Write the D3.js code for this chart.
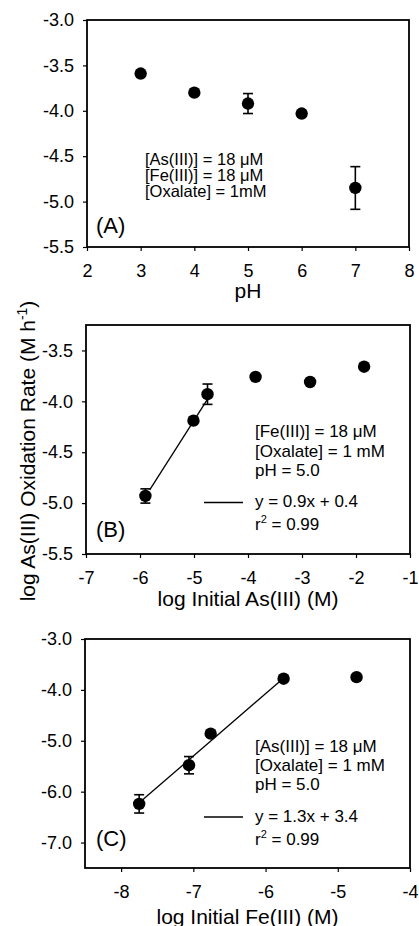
<!DOCTYPE html>
<html>
<head>
<meta charset="utf-8">
<script src="https://cdn.jsdelivr.net/npm/d3@7"></script>
<style>
  body { margin: 0; background: #fff; }
  text { font-family: "Liberation Sans", Arial, sans-serif; fill: #000; }
</style>
</head>
<body>
<div id="chart"></div>
<script>
const width = 419;
const height = 926;

// Panel A: rate vs pH
const phValues = [3, 4, 5, 6, 7];
const rateA = [-3.59, -3.80, -3.92, -4.03, -4.85];
const errA = [0, 0, 0.11, 0, 0.235];

// Panel B: rate vs log initial As(III)
const asInit = [-5.90, -5.01, -4.75, -3.86, -2.85, -1.85];
const rateB = [-4.93, -4.19, -3.93, -3.76, -3.81, -3.66];
const errB = [0.07, 0, 0.1, 0, 0, 0];
const fitB = [[-5.82, -4.87], [-4.74, -3.97]];

// Panel C: rate vs log initial Fe(III)
const feInit = [-7.75, -7.06, -6.76, -5.75, -4.74];
const rateC = [-6.24, -5.48, -4.86, -3.78, -3.75];
const errC = [0.18, 0.17, 0, 0, 0];
const fitC = [[-7.75, -6.22], [-5.76, -3.78]];

// tick values
const ticksAx = [2, 3, 4, 5, 6, 7, 8];
const ticksAy = [-5.5, -5.0, -4.5, -4.0, -3.5, -3.0];
const ticksBx = [-7, -6, -5, -4, -3, -2, -1];
const ticksBy = [-5.5, -5.0, -4.5, -4.0, -3.5];
const ticksCx = [-8, -7, -6, -5, -4];
const ticksCy = [-7.0, -6.0, -5.0, -4.0, -3.0];

const notesA = ["[As(III)] = 18 \u03bcM", "[Fe(III)] = 18 \u03bcM", "[Oxalate] = 1mM"];
const notesB = ["[Fe(III)] = 18 \u03bcM", "[Oxalate] = 1 mM", "pH = 5.0"];
const notesC = ["[As(III)] = 18 \u03bcM", "[Oxalate] = 1 mM", "pH = 5.0"];
const eqB = ["y = 0.9x + 0.4", "0.99"];
const eqC = ["y = 1.3x + 3.4", "0.99"];

// plain hyphen for negatives, like the original
const locale = d3.formatLocale({ decimal: ".", thousands: ",", grouping: [3], currency: ["", ""], minus: "-" });

const svg = d3.select("#chart").append("svg")
    .attr("width", width)
    .attr("height", height);

const panels = [
    {
        tag: "(A)", xs: phValues, ys: rateA, err: errA, fit: null,
        xDomain: [2, 8], yDomain: [-5.5, -3.0], xTicks: ticksAx, yTicks: ticksAy,
        left: 87, right: 409, top: 20, bottom: 247,
        xLabel: "pH", xLabelY: 298,
        notes: notesA, notesX: 145, notesY: 165, notesGap: 16, notesSize: 16.5,
        tagY: 233, eq: null
    },
    {
        tag: "(B)", xs: asInit, ys: rateB, err: errB, fit: fitB,
        xDomain: [-7, -1], yDomain: [-5.5, -3.25], xTicks: ticksBx, yTicks: ticksBy,
        left: 86, right: 410, top: 325, bottom: 554,
        xLabel: "log Initial As(III) (M)", xLabelY: 606,
        notes: notesB, notesX: 255, notesY: 437, notesGap: 19.7, notesSize: 17,
        tagY: 537, eq: eqB, eqY: 507, legendY: 502.5
    },
    {
        tag: "(C)", xs: feInit, ys: rateC, err: errC, fit: fitC,
        xDomain: [-8.5, -4], yDomain: [-7.5, -3.0], xTicks: ticksCx, yTicks: ticksCy,
        left: 85, right: 410, top: 639, bottom: 868,
        xLabel: "log Initial Fe(III) (M)", xLabelY: 924,
        notes: notesC, notesX: 255, notesY: 752, notesGap: 19, notesSize: 17,
        tagY: 846, eq: eqC, eqY: 822, legendY: 817
    }
];

panels.forEach(drawPanel);

function drawPanel(p) {
    const g = svg.append("g");
    const x = d3.scaleLinear().domain(p.xDomain).range([p.left, p.right]);
    const y = d3.scaleLinear().domain(p.yDomain).range([p.bottom, p.top]);

    g.append("g")
        .attr("transform", `translate(0,${p.bottom})`)
        .call(d3.axisBottom(x).tickValues(p.xTicks).tickSize(4).tickSizeOuter(0)
            .tickPadding(13).tickFormat(locale.format("d")))
        .call(a => a.select(".domain").remove())
        .call(a => a.selectAll("text").style("font-size", "18px"))
        .call(a => a.selectAll("line").attr("stroke-width", 1.2));

    g.append("g")
        .attr("transform", `translate(${p.left},0)`)
        .call(d3.axisLeft(y).tickValues(p.yTicks).tickSize(4).tickSizeOuter(0)
            .tickPadding(9).tickFormat(locale.format(".1f")))
        .call(a => a.select(".domain").remove())
        .call(a => a.selectAll("text").style("font-size", "18px"))
        .call(a => a.selectAll("line").attr("stroke-width", 1.2));

    g.append("rect")
        .attr("x", p.left)
        .attr("y", p.top)
        .attr("width", p.right - p.left)
        .attr("height", p.bottom - p.top)
        .attr("fill", "none")
        .attr("stroke", "#000")
        .attr("stroke-width", 1.8);

    // regression line
    if (p.fit) {
        g.append("line")
            .attr("x1", x(p.fit[0][0])).attr("y1", y(p.fit[0][1]))
            .attr("x2", x(p.fit[1][0])).attr("y2", y(p.fit[1][1]))
            .attr("stroke", "#000")
            .attr("stroke-width", 1.3);
    }

    const pts = p.xs.map((v, i) => ({ x: v, y: p.ys[i], e: p.err[i] }));

    // error bars
    const eb = g.selectAll(".err").data(pts.filter(d => d.e > 0)).enter().append("g")
        .attr("stroke", "#000").attr("stroke-width", 1.6);
    eb.append("line")
        .attr("x1", d => x(d.x)).attr("x2", d => x(d.x))
        .attr("y1", d => y(d.y + d.e)).attr("y2", d => y(d.y - d.e));
    eb.append("line")
        .attr("x1", d => x(d.x) - 5).attr("x2", d => x(d.x) + 5)
        .attr("y1", d => y(d.y + d.e)).attr("y2", d => y(d.y + d.e));
    eb.append("line")
        .attr("x1", d => x(d.x) - 5).attr("x2", d => x(d.x) + 5)
        .attr("y1", d => y(d.y - d.e)).attr("y2", d => y(d.y - d.e));

    g.selectAll(".pt").data(pts).enter().append("circle")
        .attr("cx", d => x(d.x))
        .attr("cy", d => y(d.y))
        .attr("r", 6.2)
        .attr("fill", "#000");

    // condition notes
    p.notes.forEach((t, i) => {
        g.append("text")
            .attr("x", p.notesX)
            .attr("y", p.notesY + i * p.notesGap)
            .style("font-size", p.notesSize + "px")
            .text(t);
    });

    if (p.eq) {
        g.append("line")
            .attr("x1", 204).attr("x2", 243)
            .attr("y1", p.legendY).attr("y2", p.legendY)
            .attr("stroke", "#000").attr("stroke-width", 1.3);
        g.append("text")
            .attr("x", p.notesX)
            .attr("y", p.eqY)
            .style("font-size", "17px")
            .text(p.eq[0]);
        const r = g.append("text")
            .attr("x", p.notesX)
            .attr("y", p.eqY + 23)
            .style("font-size", "17px");
        r.append("tspan").text("r");
        r.append("tspan").attr("dy", -7).style("font-size", "11px").text("2");
        r.append("tspan").attr("dy", 7).text(" = " + p.eq[1]);
    }

    g.append("text")
        .attr("x", 96)
        .attr("y", p.tagY)
        .style("font-size", "22px")
        .text(p.tag);

    g.append("text")
        .attr("x", (p.left + p.right) / 2)
        .attr("y", p.xLabelY)
        .attr("text-anchor", "middle")
        .style("font-size", "21px")
        .text(p.xLabel);
}

// shared y axis title
const yTitle = svg.append("text")
    .attr("transform", "translate(35,451) rotate(-90)")
    .attr("text-anchor", "middle")
    .style("font-size", "21px");
yTitle.append("tspan").text("log As(III) Oxidation Rate (M h");
yTitle.append("tspan").attr("dy", -8).style("font-size", "14px").text("-1");
yTitle.append("tspan").attr("dy", 8).text(")");
</script>
</body>
</html>
